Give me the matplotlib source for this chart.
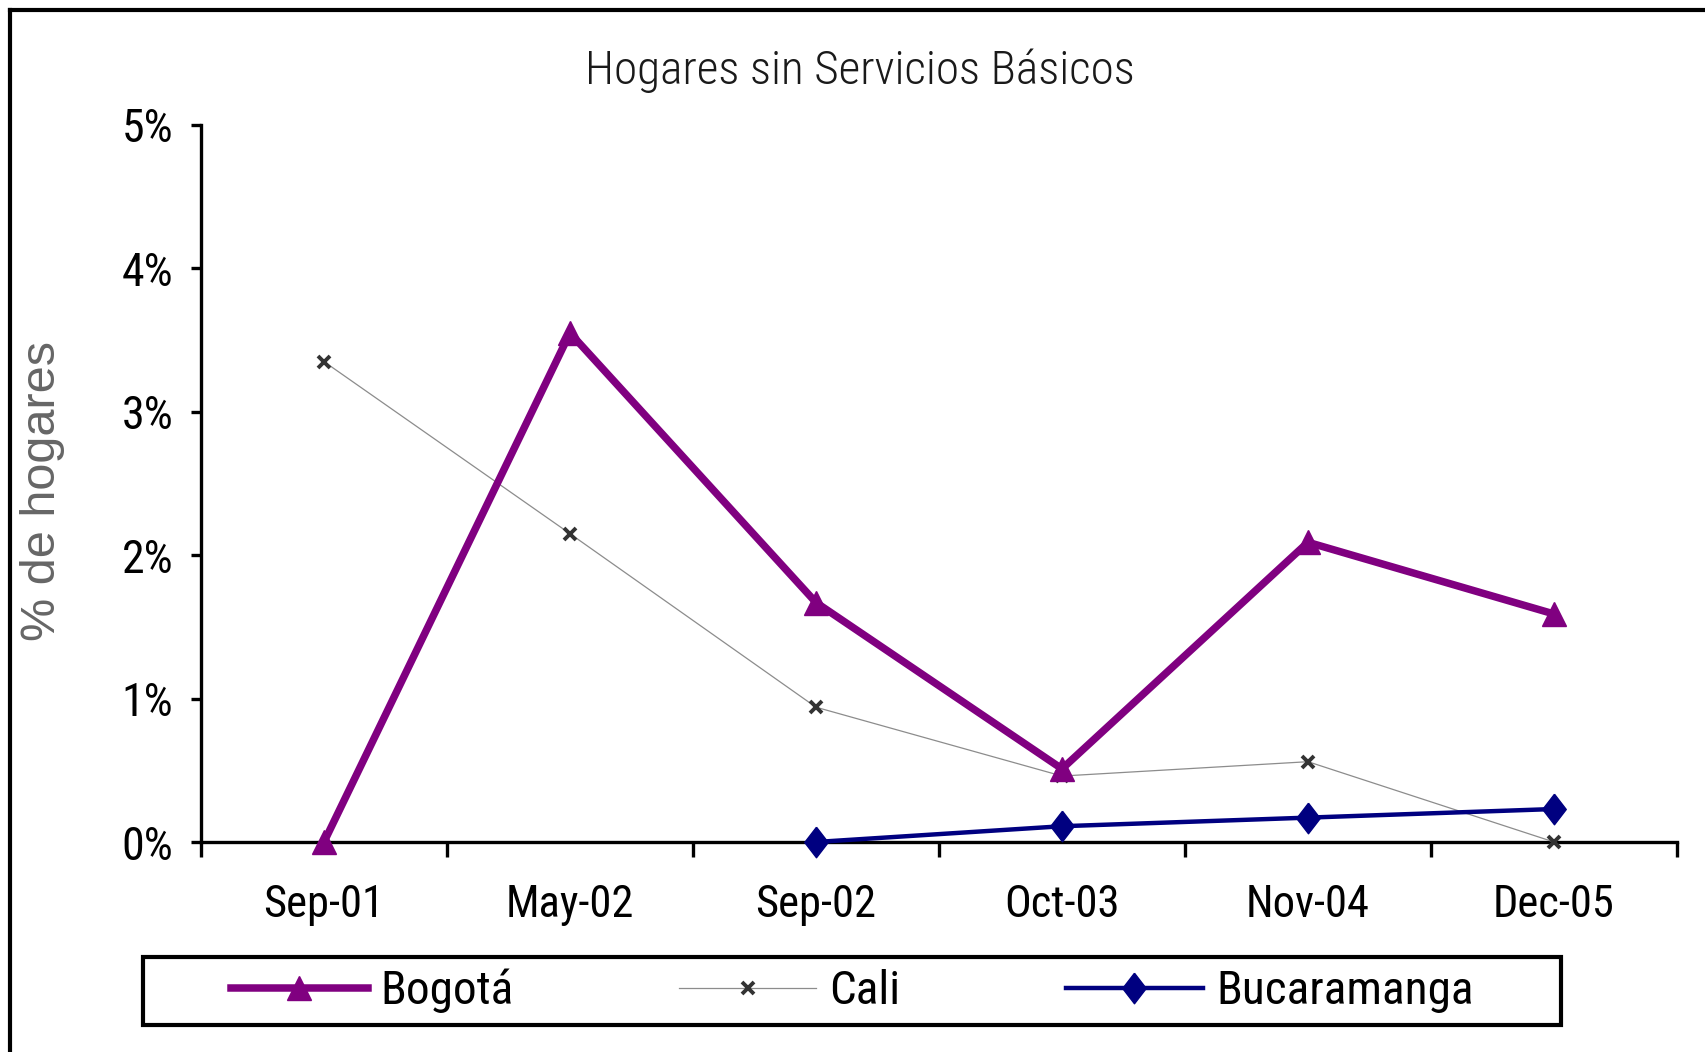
import matplotlib
matplotlib.use("Agg")
import matplotlib.pyplot as plt
from matplotlib.lines import Line2D
from matplotlib.patches import Rectangle
from matplotlib.ticker import PercentFormatter, FixedLocator, NullFormatter
import numpy as np

fechas = ["Sep-01", "May-02", "Sep-02", "Oct-03", "Nov-04", "Dec-05"]
bogota = [0.0, 3.55, 1.67, 0.51, 2.09, 1.59]
cali = [3.35, 2.15, 0.94, 0.46, 0.56, 0.0]
bucaramanga = [np.nan, np.nan, 0.0, 0.11, 0.17, 0.23]

NARROW = ["Roboto Condensed", "DejaVu Sans"]
W, H = 1705, 1052

fig = plt.figure(figsize=(W / 100, H / 100), dpi=100)
ax = fig.add_axes([201 / W, 1 - 842 / H, (1677 - 201) / W, (842 - 125) / H])

x = np.arange(len(fechas))
diamante = [(0, 1), (0.77, 0), (0, -1), (-0.77, 0), (0, 1)]

l1, = ax.plot(x, bogota, color="#800080", lw=5.4, marker="^", ms=17,
              mec="#800080", mfc="#800080", label="Bogotá", zorder=4)
l2, = ax.plot(x, cali, color="#8c8c8c", lw=0.9, marker="x", ms=8, mew=2.8,
              mec="#333333", label="Cali", zorder=3)
l3, = ax.plot(x, bucaramanga, color="#000080", lw=3.2, marker=diamante, ms=22,
              mec="#000080", mfc="#000080", label="Bucaramanga", zorder=5)
for l in (l1, l2, l3):
    l.set_clip_on(False)

ax.set_xlim(-0.5, len(fechas) - 0.5)
ax.set_ylim(0, 5)
ax.yaxis.set_major_locator(FixedLocator([0, 1, 2, 3, 4, 5]))
ax.yaxis.set_major_formatter(PercentFormatter(decimals=0))

# ticks on category boundaries, labels centred
ax.xaxis.set_major_locator(FixedLocator(np.arange(-0.5, len(fechas), 1.0)))
ax.xaxis.set_major_formatter(NullFormatter())
ax.xaxis.set_minor_locator(FixedLocator(x))
ax.set_xticklabels(fechas, minor=True)

for s in ("top", "right"):
    ax.spines[s].set_visible(False)
for s in ("left", "bottom"):
    ax.spines[s].set_linewidth(2.4)
    ax.spines[s].set_color("black")

ax.tick_params(axis="y", which="major", direction="out", length=7, width=2.4,
               pad=13, labelsize=33)
ax.tick_params(axis="x", which="major", direction="out", length=11, width=2.4)
ax.tick_params(axis="x", which="minor", length=0, pad=30, labelsize=32)
for lab in ax.get_yticklabels() + ax.get_xticklabels(minor=True):
    lab.set_family(NARROW)

fig.text(43 / W, 1 - 491 / H, "% de hogares", rotation=90, ha="center",
         va="center", fontsize=35, color="#666666", family="Liberation Sans")
fig.text(860 / W, 1 - 71 / H, "Hogares sin Servicios Básicos", ha="center",
         va="center", fontsize=34, color="#1a1a1a", family=NARROW,
         fontweight="light")

# legend with its own frame
rect = Rectangle((143 / W, 1 - 1025 / H), (1561 - 143) / W, (1025 - 957) / H,
                 transform=fig.transFigure, fill=False, lw=3, ec="black")
fig.patches.append(rect)
fig.legend(handles=[l1, l2, l3], loc="center",
           bbox_to_anchor=((143 + 1561) / 2 / W, 1 - 991 / H), ncol=3,
           frameon=False, prop={"family": NARROW, "size": 34},
           handlelength=2.9, handletextpad=0.28, columnspacing=3.5,
           markerscale=1.0)

# outer border (left and top only visible)
fig.add_artist(Line2D([10 / W, 10 / W], [0, 1 - 10 / H], color="black", lw=3,
                      transform=fig.transFigure))
fig.add_artist(Line2D([10 / W, 1], [1 - 10 / H, 1 - 10 / H], color="black", lw=3,
                      transform=fig.transFigure))

fig.savefig("out.png", dpi=100)
